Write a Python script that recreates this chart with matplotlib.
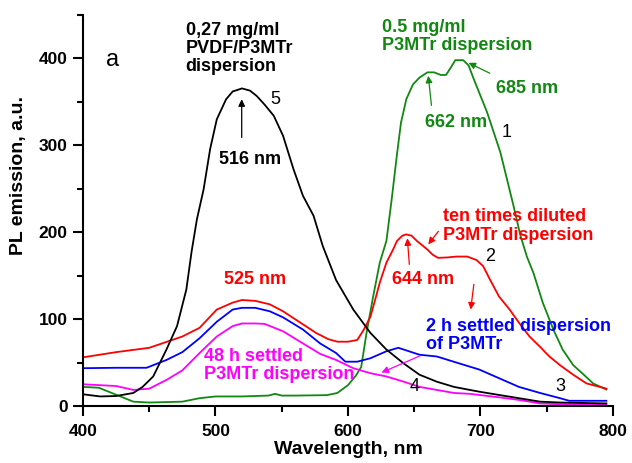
# PL emission spectra of P3MTr dispersions

import matplotlib
matplotlib.use('Agg')
import matplotlib.pyplot as plt
from matplotlib.ticker import MultipleLocator

# curve 1: 0.5 mg/ml P3MTr dispersion (green)
wl_1 = [400, 412, 425, 438, 450, 475, 488, 500, 520, 540, 545, 550, 560, 584, 592, 600,
        606, 610, 614, 619, 624, 629, 633, 637, 640, 644, 649, 654, 660, 665, 670, 674,
        677, 681, 687, 691, 695, 700, 705, 710, 715, 720, 725, 730, 735, 740, 747, 755,
        762, 770, 778, 785, 795]
pl_1 = [22, 21, 13, 5, 4, 5, 9, 11, 11, 12, 14, 12, 12, 12.5, 15, 24,
        35, 45, 84, 126, 165, 190, 238, 290, 326, 353, 370, 378, 384, 384, 381, 381,
        388, 398, 398, 392, 376, 357, 338, 315, 292, 261, 230, 197, 172, 153, 119, 88,
        65, 47, 36, 26, 19]

# curve 2: ten times diluted P3MTr dispersion (red)
wl_2 = [400, 425, 450, 475, 488, 501, 513, 520, 530, 541, 551, 564, 576, 585, 592, 600,
        607, 612, 617, 621, 624, 629, 634, 637, 641, 644, 648, 652, 656, 660, 664, 668,
        675, 682, 690, 697, 702, 707, 714, 722, 729, 737, 745, 752, 760, 770, 780, 790, 795]
pl_2 = [56, 62, 67, 80, 90, 111, 119, 122, 121, 117, 109, 96, 84, 77, 74, 74,
        76, 88, 103, 125, 142, 165, 180, 190, 196, 197.5, 196, 190, 185, 180, 174, 170.5,
        171, 172, 172, 168, 161, 146, 126, 111, 96, 80, 68, 57, 47, 36, 26, 22, 20]

# curve 3: 2 h settled dispersion of P3MTr (blue)
wl_3 = [400, 425, 448, 463, 475, 488, 501, 513, 520, 530, 541, 551, 566, 579, 591, 598,
        607, 617, 629, 638, 642, 654, 667, 684, 699, 714, 729, 745, 760, 767, 795]
pl_3 = [43.5, 44, 44, 53, 62, 78, 97, 111, 113, 113, 109, 102, 88, 72, 61, 51,
        51, 55, 63, 67, 65, 59, 57, 49, 42, 32, 22, 15, 9, 6, 6]

# curve 4: 48 h settled P3MTr dispersion (magenta)
wl_4 = [400, 425, 438, 450, 463, 475, 488, 501, 513, 520, 530, 537, 551, 566, 579, 591,
        604, 617, 629, 642, 654, 667, 680, 692, 714, 729, 745, 760, 795]
pl_4 = [25, 23, 18.5, 20, 30, 41, 61, 80, 92, 95, 95, 94.5, 86, 72, 60, 53,
        43.5, 37.7, 34, 28, 22, 18.5, 15, 14, 10, 7, 3, 2, 2]

# curve 5: 0,27 mg/ml PVDF/P3MTr dispersion (black)
wl_5 = [400, 413, 425, 438, 445, 453, 463, 471, 478, 482, 486, 491, 496, 501, 508, 513,
        520, 526, 531, 537, 544, 551, 559, 566, 574, 581, 591, 604, 617, 629, 642, 654,
        667, 680, 692, 699, 714, 729, 745, 760, 795]
pl_5 = [13.5, 11, 11.5, 15, 22, 34, 65, 92, 134, 178, 215, 249, 296, 330, 353, 362,
        365.5, 363, 357, 347, 334, 311, 272, 242, 219, 184, 145, 111, 84, 65, 49, 36,
        28, 22, 18.5, 16.5, 12.7, 9, 5, 4, 3]

plt.rcParams['font.family'] = 'Liberation Sans'

fig = plt.figure(figsize=(6.32, 4.63), dpi=100)
ax = fig.add_axes([0.1313, 0.1231, 0.8386, 0.8445])

lw = 1.3
ax.plot(wl_1, pl_1, color='#118811', lw=lw)
ax.plot(wl_2, pl_2, color='#ff0000', lw=lw)
ax.plot(wl_3, pl_3, color='#0000ff', lw=lw)
ax.plot(wl_4, pl_4, color='#ff00ff', lw=lw)
ax.plot(wl_5, pl_5, color='black', lw=lw)

ax.set_xlim(400, 800)
ax.set_ylim(0, 450)
ax.spines['top'].set_visible(False)
ax.spines['right'].set_visible(False)
ax.spines['left'].set_linewidth(1.5)
ax.spines['bottom'].set_linewidth(1.5)
ax.xaxis.set_major_locator(MultipleLocator(100))
ax.xaxis.set_minor_locator(MultipleLocator(50))
ax.yaxis.set_major_locator(MultipleLocator(100))
ax.yaxis.set_minor_locator(MultipleLocator(50))
ax.tick_params(which='major', direction='out', length=7, width=1.5, labelsize=12.5)
ax.tick_params(axis='x', which='major', pad=6)
ax.tick_params(axis='y', which='major', pad=4)
ax.tick_params(which='minor', direction='out', length=4.5, width=1.5)
ax.set_yticks([0, 100, 200, 300, 400])
for lab in ax.get_xticklabels() + ax.get_yticklabels():
    lab.set_fontweight('bold')

ax.set_xlabel("Wavelength, nm", fontsize=14, fontweight='bold')
ax.set_ylabel("PL emission, a.u.", fontsize=14, fontweight='bold')
ax.xaxis.set_label_coords(0.5, -0.09)
ax.yaxis.set_label_coords(-0.106, 0.59)

# panel letter and curve numbers
ax.text(422, 398, "a", fontsize=17, ha='center', va='center')
for num, x, y in [("1", 720, 315), ("2", 707, 172), ("3", 760, 22),
                  ("4", 650.6, 22), ("5", 545, 353)]:
    ax.text(x, y, num, fontsize=13, ha='center', va='center')

# labels
bold = dict(fontsize=13, fontweight='bold', va='center', linespacing=1.1)
ax.text(477.5, 411.5, "0,27 mg/ml\nPVDF/P3MTr\ndispersion", color='black', ha='left', **bold)
ax.text(625.4, 425.5, "0.5 mg/ml\nP3MTr dispersion", color='#118811', ha='left', **bold)
ax.text(672, 207, "ten times diluted\nP3MTr dispersion", color='red', ha='left', **bold)
ax.text(658.9, 81, "2 h settled dispersion\nof P3MTr", color='blue', ha='left', **bold)
ax.text(491.3, 46.5, "48 h settled\nP3MTr dispersion", color='#ff00ff', ha='left', **bold)

ax.text(526, 284, "516 nm", color='black', ha='center', **bold)
ax.text(735.5, 365, "685 nm", color='#118811', ha='center', **bold)
ax.text(681.5, 326, "662 nm", color='#118811', ha='center', **bold)
ax.text(657, 145.5, "644 nm", color='red', ha='center', **bold)
ax.text(529.8, 145.5, "525 nm", color='red', ha='center', **bold)

# arrows
arrows = [
    ((519.8, 309), (519.8, 353), 'black'),
    ((707, 383), (691, 395), '#118811'),
    ((663, 346), (660.6, 380), '#118811'),
    ((668.2, 201), (660.6, 186), 'red'),
    ((646.3, 163), (644.8, 193), 'red'),
    ((695, 140), (692.6, 111), 'red'),
    ((654.3, 57.7), (625.3, 38.5), '#ff00ff'),
]
for (x0, y0), (x1, y1), c in arrows:
    ax.annotate("", xy=(x1, y1), xytext=(x0, y0),
                arrowprops=dict(arrowstyle='-|>', color=c, lw=0.9,
                                mutation_scale=10, shrinkA=0, shrinkB=0))

fig.savefig('out.png', dpi=100)
